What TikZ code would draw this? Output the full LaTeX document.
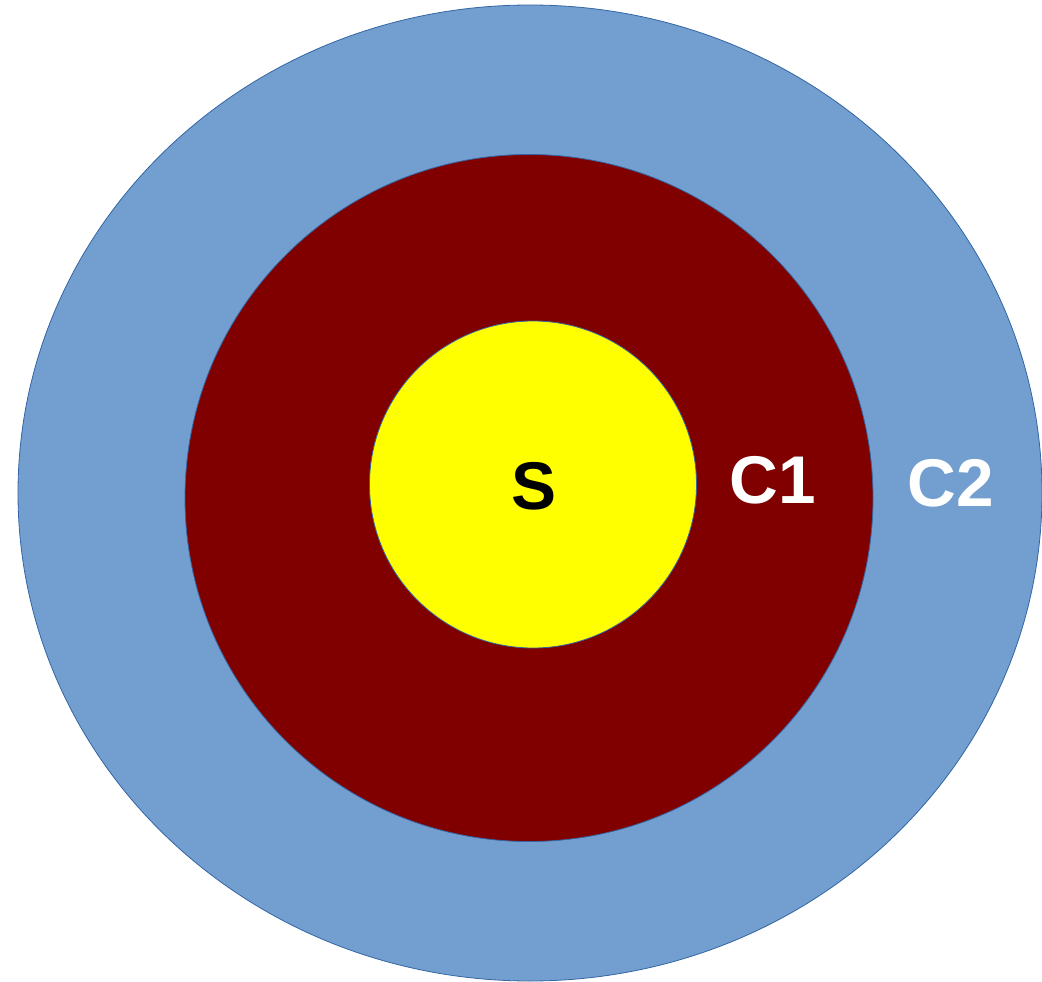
\documentclass[tikz,border=0pt]{standalone}
\usepackage{fontspec}
\setmainfont{Liberation Sans}
\usetikzlibrary{shapes.geometric}
\definecolor{skyblue}{HTML}{729FCF}
\definecolor{edgeblue}{HTML}{3465A4}
\definecolor{maroonred}{HTML}{800000}
\definecolor{pureyellow}{HTML}{FFFF00}
\begin{document}
\begin{tikzpicture}[x=1pt,y=-1pt,
  ring/.style={ellipse, draw=edgeblue, line width=0.8pt, inner sep=0pt},
  lbl/.style={font=\fontsize{67.5}{67.5}\selectfont\bfseries, inner sep=0pt}]
\useasboundingbox (0,0) rectangle (1042,982);
\node[ring, fill=skyblue, minimum width=1024pt, minimum height=976pt] (c2) at (530,493) {};
\node[ring, fill=maroonred, minimum width=688pt, minimum height=687pt] (c1) at (529,498) {};
\node[ring, fill=pureyellow, minimum width=327pt, minimum height=327pt] (s) at (533,484.5) {};
\node[lbl, text=black] (ls) at (534,486) {S};
\node[lbl, text=white] (lc1) at (772.5,480) {C1};
\node[lbl, text=white] (lc2) at (950.5,483) {C2};
\end{tikzpicture}
\end{document}
